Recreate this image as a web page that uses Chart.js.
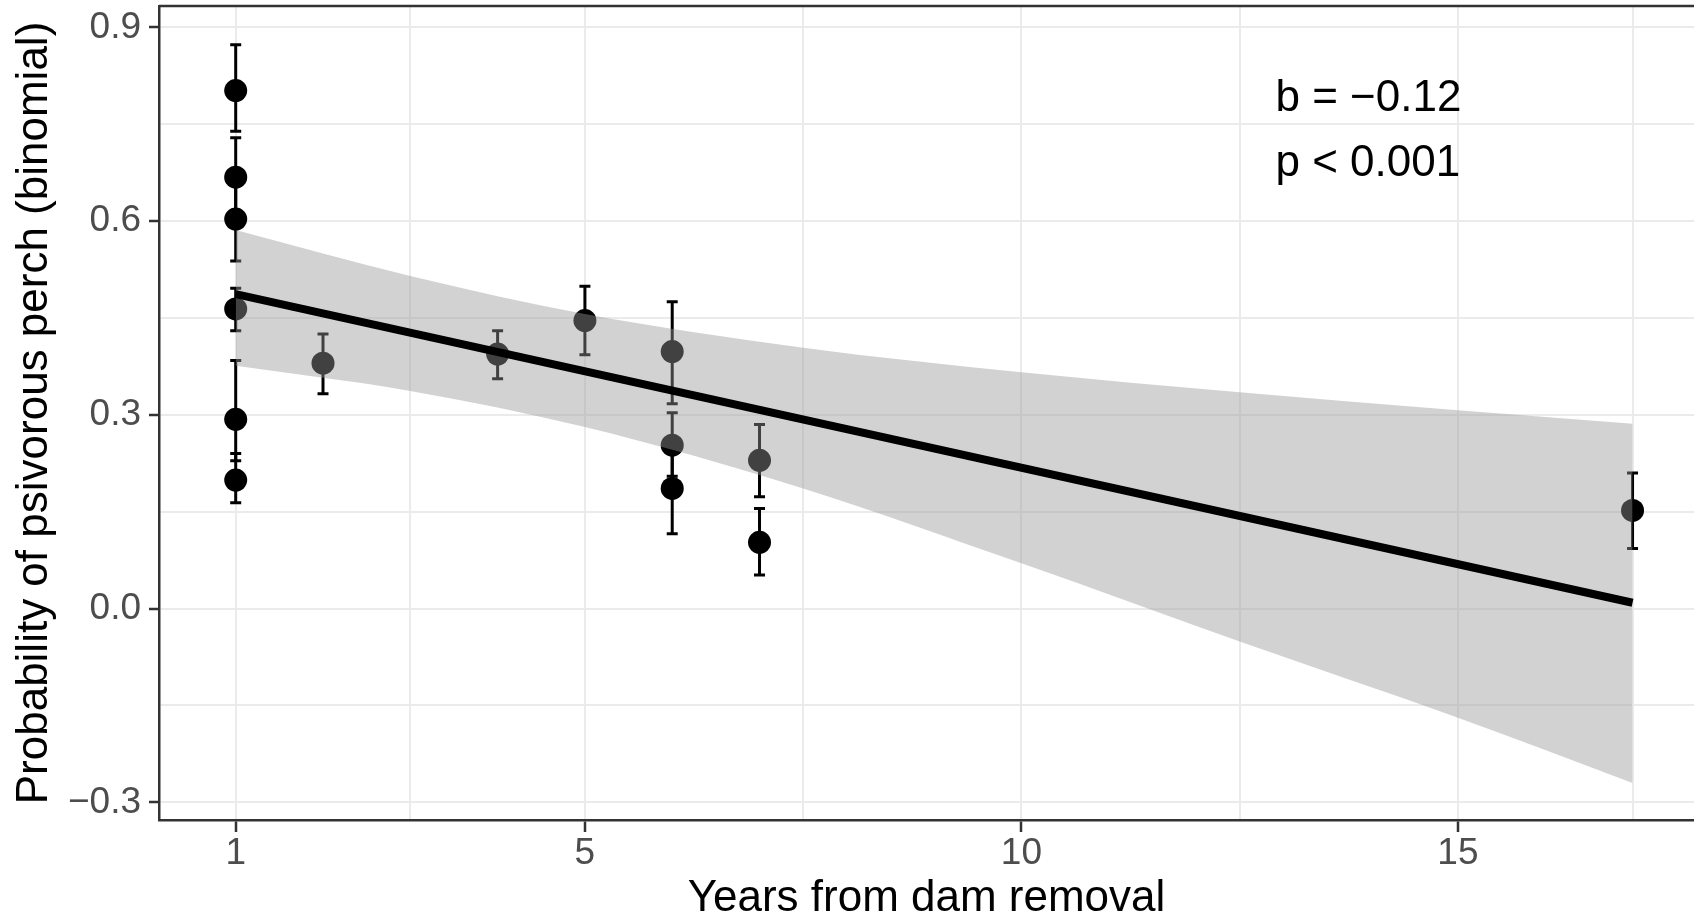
<!DOCTYPE html>
<html>
<head>
<meta charset="utf-8">
<title>Psivorous perch vs years from dam removal</title>
<script src="https://cdn.jsdelivr.net/npm/chart.js@4/dist/chart.umd.min.js"></script>
<style>
    html, body { margin: 0; padding: 0; background: #ffffff; }
    #wrap { position: relative; width: 1694px; height: 921px; }
</style>
</head>
<body>
<div id="wrap"><canvas id="perchChart"></canvas></div>
<script>
/* =====================
   Data
====================== */
// Observed site means with binomial error bars
const years = [1, 1, 1, 1, 1, 1, 2, 4, 5, 6, 6, 6, 7, 7, 17];
const prob  = [0.802, 0.668, 0.603, 0.464, 0.293, 0.199, 0.380, 0.394, 0.446, 0.398, 0.253, 0.186, 0.2295, 0.1025, 0.152];
const probLow  = [0.739, 0.607, 0.538, 0.430, 0.229, 0.164, 0.3325, 0.356, 0.393, 0.317, 0.205, 0.116, 0.173, 0.052, 0.093];
const probHigh = [0.873, 0.729, 0.668, 0.496, 0.384, 0.240, 0.425, 0.430, 0.499, 0.475, 0.303, 0.240, 0.285, 0.155, 0.210];

// Fitted trend and its confidence band
const fitYears = [1, 17];
const fitProb  = [0.487, 0.009];
const bandYears = [1, 3, 5, 7.5, 10, 12.5, 15, 17];
const bandUpper = [0.586, 0.515, 0.456, 0.404, 0.366, 0.335, 0.307, 0.286];
const bandLower = [0.376, 0.337, 0.281, 0.186, 0.070, -0.051, -0.169, -0.270];

// Axis breaks (major ones get labels and tick marks)
const xBreaks = [1, 3, 5, 7.5, 10, 12.5, 15, 17];
const xMajor  = [1, 5, 10, 15];
const yBreaks = [-0.3, -0.15, 0, 0.15, 0.3, 0.45, 0.6, 0.75, 0.9];
const yMajor  = [-0.3, 0, 0.3, 0.6, 0.9];

// Model summary text
const statLines = ['b = \u22120.12', 'p < 0.001'];
const statX = 12.91;
const statY = [0.770, 0.669];

/* =====================
   Helpers
====================== */
const FONT = "'Liberation Sans', Arial, sans-serif";
const AXIS_DARK = '#333333';
const GRID = '#EBEBEB';

const isMajor = (list, v) => list.some(m => Math.abs(m - v) < 1e-9);
const fmtY = v => (v < 0 ? '\u2212' : '') + Math.abs(v).toFixed(1);
const toXY = (xs, ys) => xs.map((x, i) => ({ x: x, y: ys[i] }));

// Error bars and the top panel edge, drawn under the points and band
const errorBarPlugin = {
    id: 'errorBars',
    beforeDatasetsDraw(chart) {
        const { ctx, chartArea, scales: { x, y } } = chart;
        ctx.save();
        ctx.strokeStyle = AXIS_DARK;
        ctx.lineWidth = 2.5;
        ctx.beginPath();
        ctx.moveTo(chartArea.left, chartArea.top);
        ctx.lineTo(chartArea.right, chartArea.top);
        ctx.stroke();

        ctx.strokeStyle = '#000000';
        ctx.lineWidth = 3;
        ctx.lineCap = 'butt';
        const cap = 5.5;
        years.forEach((yr, i) => {
            const px = x.getPixelForValue(yr);
            const lo = y.getPixelForValue(probLow[i]);
            const hi = y.getPixelForValue(probHigh[i]);
            ctx.beginPath();
            ctx.moveTo(px, lo);
            ctx.lineTo(px, hi);
            ctx.moveTo(px - cap, lo);
            ctx.lineTo(px + cap, lo);
            ctx.moveTo(px - cap, hi);
            ctx.lineTo(px + cap, hi);
            ctx.stroke();
        });
        ctx.restore();
    },
    afterDatasetsDraw(chart) {
        const { ctx, scales: { x, y } } = chart;
        ctx.save();
        ctx.fillStyle = '#000000';
        ctx.font = '44px ' + FONT;
        ctx.textAlign = 'left';
        ctx.textBaseline = 'alphabetic';
        statLines.forEach((txt, i) => {
            ctx.fillText(txt, x.getPixelForValue(statX), y.getPixelForValue(statY[i]));
        });
        ctx.restore();
    }
};

/* =====================
   Chart
====================== */
document.addEventListener('DOMContentLoaded', () => {
    const ctx = document.getElementById('perchChart').getContext('2d');
    Chart.defaults.font.family = FONT;

    new Chart(ctx, {
        type: 'scatter',
        data: {
            datasets: [
                {
                    label: 'observed',
                    data: toXY(years, prob),
                    backgroundColor: '#000000',
                    borderWidth: 0,
                    pointRadius: 11.5,
                    pointHoverRadius: 11.5,
                    order: 3
                },
                {
                    type: 'line',
                    label: 'band upper',
                    data: toXY(bandYears, bandUpper),
                    borderColor: 'rgba(0,0,0,0)',
                    borderWidth: 0,
                    backgroundColor: 'rgba(150,150,150,0.43)',
                    pointRadius: 0,
                    cubicInterpolationMode: 'monotone',
                    fill: '+1',
                    order: 2
                },
                {
                    type: 'line',
                    label: 'band lower',
                    data: toXY(bandYears, bandLower),
                    borderColor: 'rgba(0,0,0,0)',
                    borderWidth: 0,
                    pointRadius: 0,
                    cubicInterpolationMode: 'monotone',
                    fill: false,
                    order: 2
                },
                {
                    type: 'line',
                    label: 'fit',
                    data: toXY(fitYears, fitProb),
                    borderColor: '#000000',
                    borderWidth: 8,
                    borderCapStyle: 'butt',
                    pointRadius: 0,
                    fill: false,
                    order: 1
                }
            ]
        },
        options: {
            responsive: true,
            maintainAspectRatio: false,
            animation: false,
            events: [],
            layout: { autoPadding: false, padding: { top: 6, right: 0, bottom: 0, left: 0 } },
            plugins: {
                legend: { display: false },
                tooltip: { enabled: false }
            },
            scales: {
                x: {
                    type: 'linear',
                    min: 0.1214,
                    max: 17.704,
                    afterBuildTicks: scale => {
                        scale.ticks = xBreaks.map(v => ({ value: v }));
                    },
                    afterFit: scale => {
                        scale.height = 101;
                        scale.paddingLeft = 0;
                        scale.paddingRight = 0;
                    },
                    grid: {
                        color: GRID,
                        lineWidth: 2,
                        tickLength: 12,
                        tickWidth: 2.5,
                        tickColor: c => (c.tick && isMajor(xMajor, c.tick.value)) ? AXIS_DARK : 'rgba(0,0,0,0)'
                    },
                    border: { display: true, color: AXIS_DARK, width: 2.5 },
                    ticks: {
                        autoSkip: false,
                        maxRotation: 0,
                        padding: 0,
                        color: '#4D4D4D',
                        font: { size: 37 },
                        callback: v => isMajor(xMajor, v) ? String(v) : ''
                    },
                    title: {
                        display: true,
                        text: 'Years from dam removal',
                        color: '#000000',
                        font: { size: 44, lineHeight: 1 },
                        padding: { top: 0, bottom: 0 }
                    }
                },
                y: {
                    type: 'linear',
                    min: -0.3274,
                    max: 0.933,
                    afterBuildTicks: scale => {
                        scale.ticks = yBreaks.map(v => ({ value: v }));
                    },
                    afterFit: scale => {
                        scale.width = 159;
                        scale.paddingTop = 0;
                        scale.paddingBottom = 0;
                    },
                    grid: {
                        color: GRID,
                        lineWidth: 2,
                        tickLength: 10,
                        tickWidth: 2.5,
                        tickColor: c => (c.tick && isMajor(yMajor, c.tick.value)) ? AXIS_DARK : 'rgba(0,0,0,0)'
                    },
                    border: { display: true, color: AXIS_DARK, width: 2.5 },
                    ticks: {
                        autoSkip: false,
                        padding: 8,
                        color: '#4D4D4D',
                        font: { size: 37 },
                        callback: v => isMajor(yMajor, v) ? fmtY(v) : ''
                    },
                    title: {
                        display: true,
                        text: 'Probability of psivorous perch (binomial)',
                        color: '#000000',
                        font: { size: 44 },
                        padding: { top: 8, bottom: 0 }
                    }
                }
            }
        },
        plugins: [errorBarPlugin]
    });
});
</script>
</body>
</html>
